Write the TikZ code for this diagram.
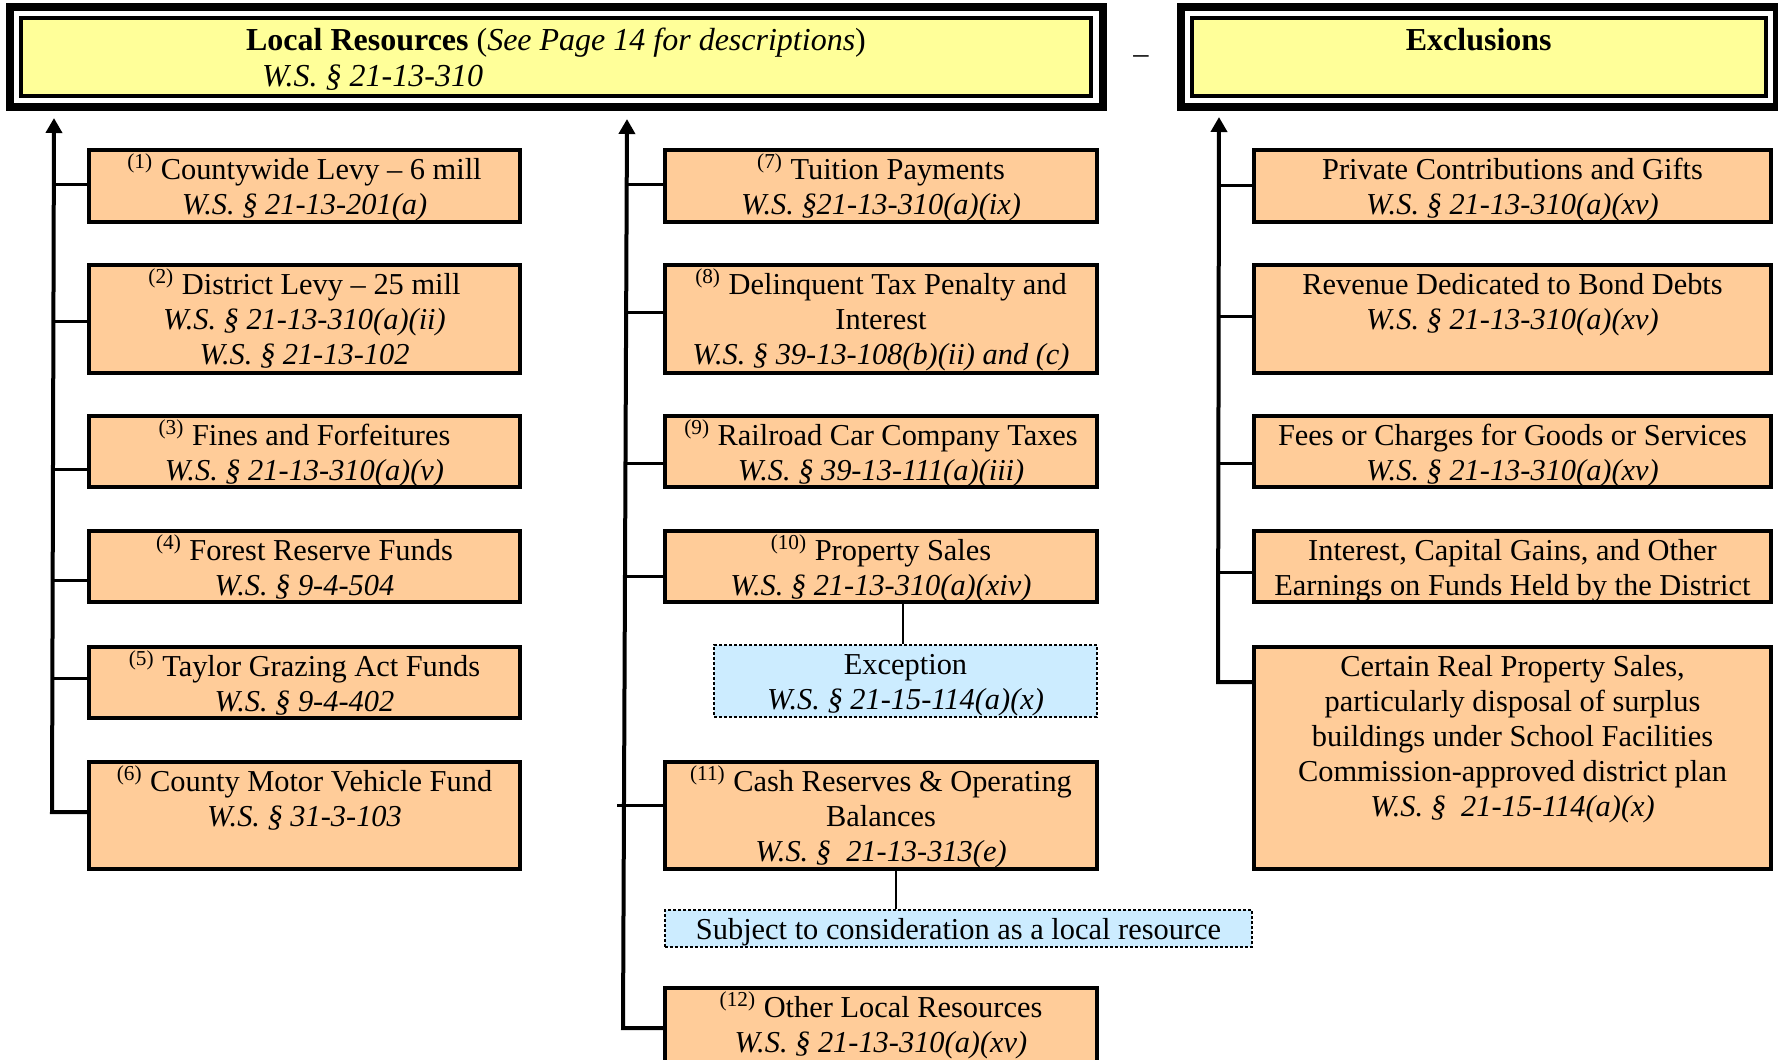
\documentclass[tikz,border=0pt]{standalone}
\usepackage{fontspec}
\setmainfont{Liberation Serif}
\usetikzlibrary{arrows.meta}
\definecolor{hdrfill}{HTML}{FFFF99}
\definecolor{boxfill}{HTML}{FFCC99}
\definecolor{notefill}{HTML}{CCECFF}
% #1 style, #2 name, #3 x1, #4 y1, #5 x2, #6 y2 (pixels, border centre line), #7 text
\newcommand\mkbox[7]{%
  \node[#1] (#2) at ({(#3+#5)/2},{(#4+#6)/2})
   {\parbox[c][\dimexpr 0.5pt*\numexpr #6-#4\relax\relax][t]{\dimexpr 0.5pt*\numexpr #5-#3\relax\relax}{\centering\rule{0pt}{14.5pt}#7\par}};}
\newcommand\wsref[1]{\textit{W.S. § #1}}
\newcommand\nr[1]{\textsuperscript{(#1)}}
\begin{document}
\begin{tikzpicture}[x=0.5pt,y=-0.5pt,
  every node/.style={font=\fontsize{15.2}{17.5}\selectfont, inner sep=0pt},
  hdrbox/.style={draw, line width=2pt, fill=hdrfill, font=\fontsize{16}{18}\selectfont},
  hdrouter/.style={draw, line width=4pt},
  srcbox/.style={draw, line width=2.25pt, fill=boxfill},
  notebox/.style={draw, line width=0.75pt, dash pattern=on 1.5pt off 1pt, fill=notefill},
  trunk/.style={line width=2pt, -{Triangle[width=8pt,length=7.5pt]}},
  branch/.style={line width=1.5pt},
  thinlink/.style={line width=0.75pt}]
\fill[white] (0,0) rectangle (1778,1060);
\useasboundingbox (0,0) rectangle (1778,1060);

% ---- headers
\node[hdrbox] (hdr) at (556,56.75) {\parbox[c][38.75pt][t]{535pt}{\centering\rule{0pt}{16pt}\textbf{Local Resources} (\textit{See Page 14 for descriptions})\\\leavevmode\hbox to 0pt{\hskip-147pt\textit{W.S. § 21-13-310}\hss}\par}};
\draw[hdrouter] ([shift={(-9.5,-9.5)}]hdr.north west) rectangle ([shift={(9.5,9.5)}]hdr.south east);
\node[hdrbox] (excl) at (1478.75,56.75) {\parbox[c][38.75pt][t]{286.75pt}{\centering\rule{0pt}{16pt}\textbf{Exclusions}\par}};
\draw[hdrouter] ([shift={(-9.5,-9.5)}]excl.north west) rectangle ([shift={(9.5,9.5)}]excl.south east);
\node[anchor=base] (minus) at (1141,63) {--};

% ---- left column
\mkbox{srcbox}{b1}{89}{150}{520}{222}{\nr{1} Countywide Levy -- 6 mill\\\wsref{21-13-201(a)}}
\mkbox{srcbox}{b2}{89}{265}{520}{373}{\nr{2} District Levy -- 25 mill\\\wsref{21-13-310(a)(ii)}\\\wsref{21-13-102}}
\mkbox{srcbox}{b3}{89}{416}{520}{487}{\nr{3} Fines and Forfeitures\\\wsref{21-13-310(a)(v)}}
\mkbox{srcbox}{b4}{89}{531}{520}{602}{\nr{4} Forest Reserve Funds\\\wsref{9-4-504}}
\mkbox{srcbox}{b5}{89}{647}{520}{718}{\nr{5} Taylor Grazing Act Funds\\\wsref{9-4-402}}
\mkbox{srcbox}{b6}{89}{762}{520}{869}{\nr{6} County Motor Vehicle Fund\\\wsref{31-3-103}}

% ---- middle column
\mkbox{srcbox}{b7}{665}{150}{1097}{222}{\nr{7} Tuition Payments\\\textit{W.S. §21-13-310(a)(ix)}}
\mkbox{srcbox}{b8}{665}{265}{1097}{373}{\nr{8} Delinquent Tax Penalty and\\Interest\\\wsref{39-13-108(b)(ii) and (c)}}
\mkbox{srcbox}{b9}{665}{416}{1097}{487}{\nr{9} Railroad Car Company Taxes\\\wsref{39-13-111(a)(iii)}}
\mkbox{srcbox}{b10}{665}{531}{1097}{602}{\nr{10} Property Sales\\\wsref{21-13-310(a)(xiv)}}
\mkbox{notebox}{exc}{714}{645}{1097}{717}{Exception\\\wsref{21-15-114(a)(x)}}
\mkbox{srcbox}{b11}{665}{762}{1097}{869}{\nr{11} Cash Reserves \& Operating\\Balances\\\textit{W.S. §\ \ 21-13-313(e)}}
\mkbox{notebox}{subj}{665}{910}{1252}{947}{Subject to consideration as a local resource}
\mkbox{srcbox}{b12}{665}{988}{1097}{1098}{\nr{12} Other Local Resources\\\wsref{21-13-310(a)(xv)}}

% ---- right column
\mkbox{srcbox}{r1}{1254}{150}{1771}{222}{Private Contributions and Gifts\\\wsref{21-13-310(a)(xv)}}
\mkbox{srcbox}{r2}{1254}{265}{1771}{373}{Revenue Dedicated to Bond Debts\\\wsref{21-13-310(a)(xv)}}
\mkbox{srcbox}{r3}{1254}{416}{1771}{487}{Fees or Charges for Goods or Services\\\wsref{21-13-310(a)(xv)}}
\mkbox{srcbox}{r4}{1254}{531}{1771}{602}{Interest, Capital Gains, and Other\\Earnings on Funds Held by the District}
\mkbox{srcbox}{r5}{1254}{647}{1771}{869}{Certain Real Property Sales,\\particularly disposal of surplus\\buildings under School Facilities\\Commission-approved district plan\\\textit{W.S. §\ \ 21-15-114(a)(x)}}

% ---- trunks
\coordinate (lbot) at (52,812);
\coordinate (ltop) at (54,118);
\coordinate (mbot) at (623,1028);
\coordinate (mtop) at (627,119);
\coordinate (rbot) at (1218,682);
\coordinate (rtop) at (1219,117);
\draw[trunk] (b6.west |- lbot) -- (lbot) -- (ltop);
\draw[trunk] (b12.west |- mbot) -- (mbot) -- (mtop);
\draw[trunk] (r5.west |- rbot) -- (rbot) -- (rtop);

% ---- branches
\coordinate (l1) at (53.9,184);
\coordinate (l2) at (53.6,321);
\coordinate (l3) at (53.2,469);
\coordinate (l4) at (53.0,580);
\coordinate (l5) at (52.7,678);
\draw[branch] (l1) -- (l1 -| b1.west);
\draw[branch] (l2) -- (l2 -| b2.west);
\draw[branch] (l3) -- (l3 -| b3.west);
\draw[branch] (l4) -- (l4 -| b4.west);
\draw[branch] (l5) -- (l5 -| b5.west);
\coordinate (m1) at (626.7,184);
\coordinate (m2) at (626.2,312);
\coordinate (m3) at (625.5,463);
\coordinate (m4) at (625.0,576);
\coordinate (m5) at (617,805);
\draw[branch] (m1) -- (m1 -| b7.west);
\draw[branch] (m2) -- (m2 -| b8.west);
\draw[branch] (m3) -- (m3 -| b9.west);
\draw[branch] (m4) -- (m4 -| b10.west);
\draw[branch] (m5) -- (m5 -| b11.west);
\coordinate (q1) at (1219,185);
\coordinate (q2) at (1219,316);
\coordinate (q3) at (1218.7,463);
\coordinate (q4) at (1218.5,572);
\draw[branch] (q1) -- (q1 -| r1.west);
\draw[branch] (q2) -- (q2 -| r2.west);
\draw[branch] (q3) -- (q3 -| r3.west);
\draw[branch] (q4) -- (q4 -| r4.west);

% ---- thin links to the notes
\coordinate (c10) at (903,0);
\coordinate (c11) at (896,0);
\draw[thinlink] (b10.south -| c10) -- (exc.north -| c10);
\draw[thinlink] (b11.south -| c11) -- (subj.north -| c11);
\end{tikzpicture}
\end{document}
